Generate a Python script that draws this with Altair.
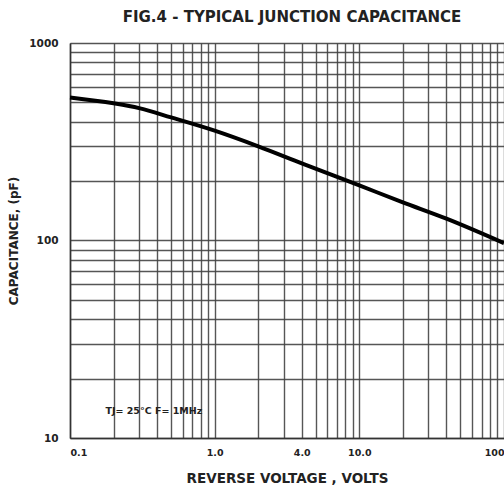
import altair as alt
import pandas as pd

# Curve data
voltage = [0.1, 0.2, 0.3, 0.5, 1.0, 2.0, 4.0, 10.0, 20.0, 40.0, 100.0]
capacitance = [530, 495, 468, 420, 360, 300, 246, 190, 156, 129, 97]

x_grid = [0.1, 0.2, 0.3, 0.4, 0.5, 0.6, 0.7, 0.8, 0.9, 1, 2, 3, 4, 5, 6, 7, 8, 9,
          10, 20, 30, 40, 50, 60, 70, 80, 90, 100]
y_grid = [10, 20, 30, 40, 50, 60, 70, 80, 90, 100, 200, 300, 400, 500, 600, 700,
          800, 900, 1000]
x_labels = ["0.1", "1.0", "4.0", "10.0", "100"]
y_labels = ["10", "100", "1000"]

note_text = ["TJ= 25°C F= 1MHz"]
note_x = [0.38]
note_y = [13.7]

df = pd.DataFrame({"V": voltage, "C": capacitance})
note_df = pd.DataFrame({"V": note_x, "C": note_y, "t": note_text})

font = "DejaVu Sans"

x_scale = alt.Scale(type="log", domain=[0.1, 100], nice=False)
y_scale = alt.Scale(type="log", domain=[10, 1000], nice=False)

xlab_expr = ("datum.value == 0.1 ? '0.1' : datum.value == 1 ? '1.0' : datum.value == 4 ? '4.0' : "
             "datum.value == 10 ? '10.0' : datum.value == 100 ? '100' : ''")
ylab_expr = ("datum.value == 10 ? '10' : datum.value == 100 ? '100' : datum.value == 1000 ? '1000' : ''")

line = alt.Chart(df).mark_line(color="black", strokeWidth=4, interpolate="monotone").encode(
    x=alt.X("V:Q", scale=x_scale,
            axis=alt.Axis(values=x_grid, labelExpr=xlab_expr, title="REVERSE VOLTAGE , VOLTS",
                          grid=True, gridColor="#444", gridWidth=1.4, gridOpacity=0.9,
                          ticks=False, domainColor="#333", domainWidth=1.5,
                          labelFont=font, labelFontSize=9.5, labelFontWeight="bold",
                          labelColor="#222", labelPadding=9, labelFlush=True,
                          titleFont=font, titleFontSize=13.5, titleFontWeight="bold",
                          titleColor="#222", titlePadding=15)),
    y=alt.Y("C:Q", scale=y_scale,
            axis=alt.Axis(values=y_grid, labelExpr=ylab_expr, title="CAPACITANCE, (pF)",
                          grid=True, gridColor="#444", gridWidth=1.4, gridOpacity=0.9,
                          ticks=False, domainColor="#333", domainWidth=1.5,
                          labelFont=font, labelFontSize=10.5, labelFontWeight="bold",
                          labelColor="#222", labelPadding=12,
                          titleFont=font, titleFontSize=12, titleFontWeight="bold",
                          titleColor="#222", titlePadding=8)),
)

note = alt.Chart(note_df).mark_text(font=font, fontSize=9.5, fontWeight="bold", color="#222").encode(
    x=alt.X("V:Q", scale=x_scale), y=alt.Y("C:Q", scale=y_scale), text="t:N")

chart = alt.layer(line, note).properties(
    width=434, height=395,
    title=alt.TitleParams("FIG.4 - TYPICAL JUNCTION CAPACITANCE", font=font, fontSize=15,
                          fontWeight="bold", color="#222", dx=5, offset=13),
    autosize=alt.AutoSizeParams(type="none"),
    padding={"left": 70, "top": 43, "right": 0, "bottom": 57},
).configure_view(stroke=None).configure(background="white")

chart.save("out.html", embed_options={"renderer": "svg", "actions": False})
